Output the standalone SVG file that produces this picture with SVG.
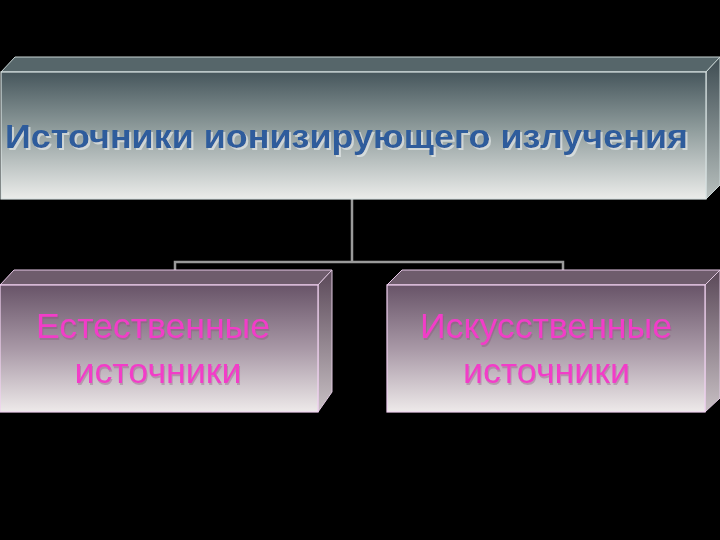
<svg xmlns="http://www.w3.org/2000/svg" width="720" height="540" viewBox="0 0 720 540">
<defs>
<linearGradient id="gTop" x1="0" y1="0" x2="0" y2="1">
<stop offset="0" stop-color="#46565c"/>
<stop offset="0.45" stop-color="#8f9c9c"/>
<stop offset="1" stop-color="#ebecea"/>
</linearGradient>
<linearGradient id="gTopSide" x1="0" y1="0" x2="0" y2="1">
<stop offset="0" stop-color="#3e4c52"/>
<stop offset="1" stop-color="#b8c0be"/>
</linearGradient>
<linearGradient id="gBox" x1="0" y1="0" x2="0" y2="1">
<stop offset="0" stop-color="#685468"/>
<stop offset="0.5" stop-color="#a898a6"/>
<stop offset="1" stop-color="#eeeaea"/>
</linearGradient>
<linearGradient id="gBoxSide" x1="0" y1="0" x2="0" y2="1">
<stop offset="0" stop-color="#5a4858"/>
<stop offset="1" stop-color="#c8c0c4"/>
</linearGradient>
<filter id="fTitle" x="-5%" y="-30%" width="110%" height="160%">
<feDropShadow dx="2" dy="2" stdDeviation="0.6" flood-color="#eef2f2" flood-opacity="0.6"/>
</filter>
<filter id="fLbl" x="-5%" y="-30%" width="110%" height="160%">
<feDropShadow dx="1" dy="2" stdDeviation="0.6" flood-color="#8a4878" flood-opacity="0.35"/>
</filter>
</defs>
<style>
.cap{fill:#56666a;stroke:#c8d4d4;stroke-width:1}
.front1{fill:url(#gTop);stroke:#d8e2e2;stroke-width:1.2}
.side1{fill:url(#gTopSide);stroke:#c8d4d4;stroke-width:1}
.capb{fill:#6e5c6c;stroke:#e8c8e8;stroke-width:1}
.frontb{fill:url(#gBox);stroke:#f0d0f0;stroke-width:1.2}
.sideb{fill:url(#gBoxSide);stroke:#e0c8e0;stroke-width:1}
.conn{fill:none;stroke:#9a9a9a;stroke-width:2.5}
.title{font-family:"Liberation Sans",Arial,sans-serif;font-weight:bold;font-size:33px;fill:#2d5c9c;filter:url(#fTitle)}
.lbl{font-family:"Liberation Sans",Arial,sans-serif;font-size:35px;fill:#f23cc8;text-anchor:middle;filter:url(#fLbl)}
</style>
<rect x="0" y="0" width="720" height="540" fill="#000"/>
<g id="connectors">
<polyline class="conn" points="352,199 352,262"/>
<polyline class="conn" points="175,271 175,262 563,262 563,271"/>
</g>
<g id="node-root">
<polygon class="cap" points="1,72 15,57 720,57 706,72"/>
<polygon class="side1" points="706,72 720,57 720,185 706,199"/>
<rect class="front1" x="1" y="72" width="705" height="127"/>
<text class="title" x="5" y="148" textLength="683" lengthAdjust="spacingAndGlyphs">Источники ионизирующего излучения</text>
</g>
<g id="node-natural">
<polygon class="capb" points="0,285 14,270 332,270 318,285"/>
<polygon class="sideb" points="318,285 332,270 332,392 318,412"/>
<rect class="frontb" x="0" y="285" width="318" height="127"/>
<text class="lbl" x="153" y="338" textLength="234" lengthAdjust="spacingAndGlyphs">Естественные</text>
<text class="lbl" x="158" y="383" textLength="167" lengthAdjust="spacingAndGlyphs">источники</text>
</g>
<g id="node-artificial">
<polygon class="capb" points="387,285 402,270 720,270 705,285"/>
<polygon class="sideb" points="705,285 720,270 720,398 705,412"/>
<rect class="frontb" x="387" y="285" width="318" height="127"/>
<text class="lbl" x="546" y="338" textLength="252" lengthAdjust="spacingAndGlyphs">Искусственные</text>
<text class="lbl" x="546.5" y="383" textLength="167" lengthAdjust="spacingAndGlyphs">источники</text>
</g>
</svg>
